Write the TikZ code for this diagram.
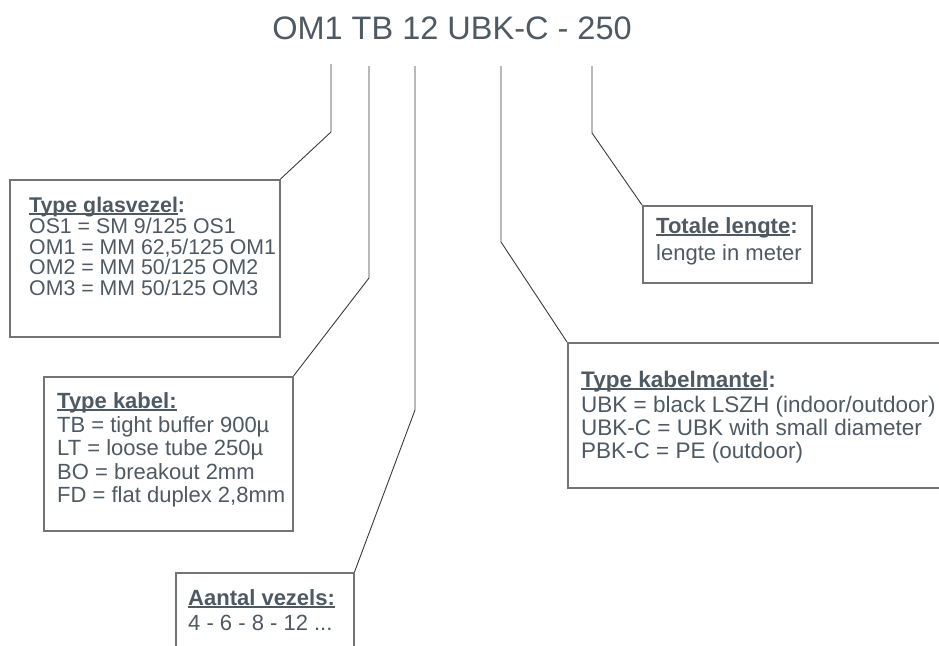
\documentclass[tikz,border=0pt]{standalone}
\usepackage{fontspec}
\setmainfont{Liberation Sans}
\usepackage{xcolor}
\usetikzlibrary{positioning}
\definecolor{tekstgrijs}{HTML}{4D5963}
\definecolor{randgrijs}{HTML}{747474}
\definecolor{lijngrijs}{HTML}{3A3A3A}
\newlength\ondlen
\newcommand\ond[1]{\settowidth{\ondlen}{#1}\rlap{\rule[-0.11em]{\ondlen}{0.07em}}#1}

\begin{document}
\begin{tikzpicture}[x=1pt, y=-1pt,
      kader/.style={draw=randgrijs, line width=1.5pt, anchor=north west, inner sep=0pt},
      tekst/.style={anchor=north west, align=left, inner sep=0pt, text=tekstgrijs},
      lijn/.style={draw=lijngrijs, line width=0.9pt}
    ]
    \useasboundingbox (0,0) rectangle (939,645);
    \node[text=tekstgrijs, font=\fontsize{32.5}{36}\selectfont, anchor=base] (code) at (452,39) {OM1 TB 12 UBK-C - 250};

    % kaders
    \node[kader, minimum width=270, minimum height=157] (glas) at (9,179) {};
    \node[kader, minimum width=249, minimum height=154] (kabel) at (43,376) {};
    \node[kader, minimum width=178, minimum height=130] (vezels) at (175,572) {};
    \node[kader, minimum width=400, minimum height=145] (mantel) at (567,342) {};
    \node[kader, minimum width=169, minimum height=77] (lengte) at (642,205) {};

    % teksten
    \node[tekst, font=\fontsize{21.3}{20.7}\selectfont] (glastekst) at (29,197)
      {\textbf{\ond{Type glasvezel}:}\\OS1 = SM 9/125 OS1\\OM1 = MM 62,5/125 OM1\\OM2 = MM 50/125 OM2\\OM3 = MM 50/125 OM3};
    \node[tekst, font=\fontsize{22}{23.3}\selectfont] (kabeltekst) at (57,392)
      {\textbf{\ond{Type kabel:}}\\[1pt]TB = tight buffer 900µ\\LT = loose tube 250µ\\BO = breakout 2mm\\FD = flat duplex 2,8mm};
    \node[tekst, font=\fontsize{22}{25}\selectfont] (vezelstekst) at (188,589)
      {\textbf{\ond{Aantal vezels:}}\\4 - 6 - 8 - 12 ...};
    \node[tekst, font=\fontsize{22.5}{23}\selectfont] (manteltekst) at (581,371)
      {\textbf{\ond{Type kabelmantel}:}\\[2pt]UBK = black LSZH (indoor/outdoor)\\UBK-C = UBK with small diameter\\PBK-C = PE (outdoor)};
    \node[tekst, font=\fontsize{22}{27}\selectfont] (lengtetekst) at (656,217)
      {\textbf{\ond{Totale lengte}:}\\lengte in meter};

    % verbindingslijnen
    \coordinate (om1) at (331,64);  \coordinate (om1k) at (331,132);
    \coordinate (tb) at (369,66);   \coordinate (tbk) at (369,278);
    \coordinate (aantal) at (415,66); \coordinate (aantalk) at (415,410);
    \coordinate (ubk) at (501,66);  \coordinate (ubkk) at (501,242);
    \coordinate (lng) at (592,66);  \coordinate (lngk) at (592,133);
    \draw[lijn] (om1) -- (om1k) -- (glas.north east);
    \draw[lijn] (tb) -- (tbk) -- (kabel.north east);
    \draw[lijn] (aantal) -- (aantalk) -- (vezels.north east);
    \draw[lijn] (ubk) -- (ubkk) -- (mantel.north west);
    \draw[lijn] (lng) -- (lngk) -- (lengte.north west);
  \end{tikzpicture}
\end{document}
